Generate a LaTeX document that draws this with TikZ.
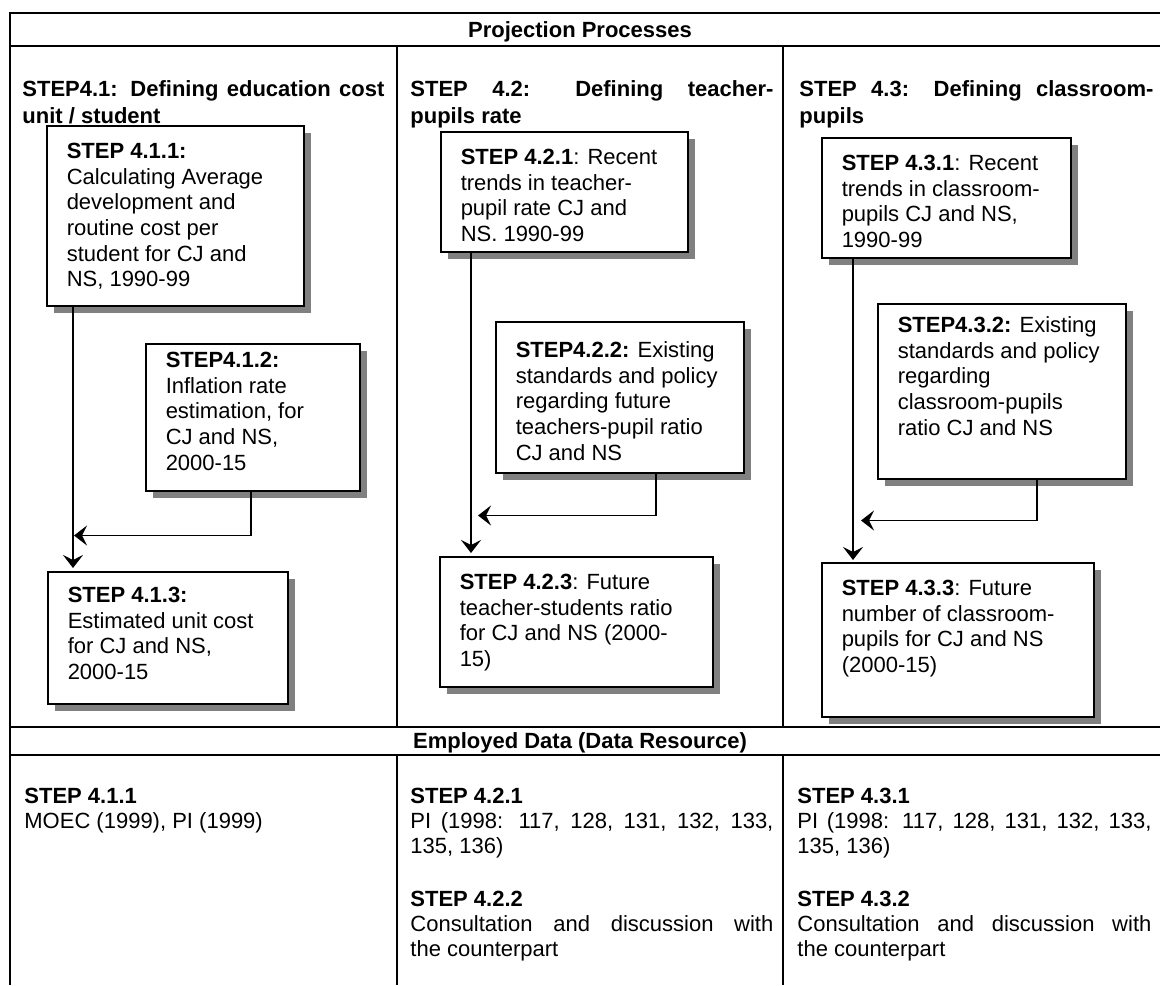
\documentclass[tikz,border=0pt]{standalone}
\usepackage{fontspec}
\setmainfont{Liberation Sans}
\usetikzlibrary{
    arrows.meta,
    positioning,
    calc,
    shadows
}
\definecolor{ShadowGray}{RGB}{128,128,128}
\tikzset{
  gridline/.style = {line width=1pt, black},
  stepbox/.style  = {draw, line width=0.75pt, fill=white, inner sep=0pt, anchor=north west,
                     font=\fontsize{11pt}{12.8pt}\selectfont,
                     drop shadow={shadow xshift=3.5pt, shadow yshift=-3.5pt,
                                  fill=ShadowGray, opacity=1}},
  coltext/.style  = {anchor=north west, inner sep=0pt, align=justify,
                     font=\fontsize{11pt}{13.5pt}\selectfont\bfseries},
  datatext/.style = {anchor=north west, inner sep=0pt, align=justify,
                     font=\fontsize{11pt}{12.5pt}\selectfont},
  rowhead/.style  = {anchor=base, inner sep=0pt, font=\fontsize{11pt}{13pt}\selectfont\bfseries},
  arr/.style      = {-{Stealth[length=6.5pt, width=10pt, inset=2.5pt]}, line width=0.65pt},
}
% box text: width, height, first baseline, text
\newcommand{\boxtxt}[4]{\parbox[t][#2][t]{#1}{\raggedright\leftskip=10pt\relax\rule{0pt}{#3}#4}}

\begin{document}
\begin{tikzpicture}[x=0.5pt, y=-0.5pt]
\useasboundingbox (0,0) rectangle (1160,985);

\draw[gridline] (1160,13) -- (10,13) -- (10,985);
\draw[gridline] (10,46) -- (1160,46);
\draw[gridline] (10,727) -- (1160,727);
\draw[gridline] (10,755) -- (1160,755);
\foreach \x in {397,783} {
  \draw[gridline] (\x,46) -- (\x,727);
  \draw[gridline] (\x,755) -- (\x,985);
}

\node[rowhead] (proj) at (580,37) {Projection Processes};
\node[rowhead] (data) at (580,748) {Employed Data (Data Resource)};

\node[coltext, text width=181pt] (t41) at (22,76)
  {\rule{0pt}{10pt}STEP4.1: Defining education cost\linebreak unit / student};
\node[coltext, text width=181.5pt] (t42) at (410,76)
  {\rule{0pt}{10pt}STEP 4.2: Defining teacher-\linebreak pupils rate};
\node[coltext, text width=177pt] (t43) at (799,76)
  {\rule{0pt}{10pt}STEP 4.3: Defining classroom-\linebreak pupils};

\node[stepbox] (b411) at (46,125) {\boxtxt{128.5pt}{90pt}{16.5pt}{\textbf{STEP 4.1.1:}\\
  Calculating Average\\ development and\\ routine cost per\\ student for CJ and\\ NS, 1990-99}};
\node[stepbox] (b412) at (145,343) {\boxtxt{107pt}{73.5pt}{12pt}{\textbf{STEP4.1.2:}\\
  Inflation rate\\ estimation, for\\ CJ and NS,\\ 2000-15}};
\node[stepbox] (b413) at (47,571) {\boxtxt{120pt}{66pt}{15.5pt}{\textbf{STEP 4.1.3:}\\
  Estimated unit cost\\ for CJ and NS,\\ 2000-15}};

\node[stepbox] (b421) at (440,131) {\boxtxt{123.5pt}{60pt}{16.5pt}{\textbf{STEP 4.2.1}: Recent\\
  trends in teacher-\\ pupil rate CJ and\\ NS. 1990-99}};
\node[stepbox] (b422) at (495,321) {\boxtxt{124pt}{75.5pt}{18pt}{\textbf{STEP4.2.2:} Existing\\
  standards and policy\\ regarding future\\ teachers-pupil ratio\\ CJ and NS}};
\node[stepbox] (b423) at (439,556) {\boxtxt{136.5pt}{65pt}{16.5pt}{\textbf{STEP 4.2.3}: Future\\
  teacher-students ratio\\ for CJ and NS (2000-\\ 15)}};

\node[stepbox] (b431) at (821,137) {\boxtxt{124.5pt}{60pt}{16.5pt}{\textbf{STEP 4.3.1}: Recent\\
  trends in classroom-\\ pupils CJ and NS,\\ 1990-99}};
\node[stepbox] (b432) at (877,303) {\boxtxt{124pt}{87.5pt}{14.5pt}{\textbf{STEP4.3.2:} Existing\\
  standards and policy\\ regarding\\ classroom-pupils\\ ratio CJ and NS}};
\node[stepbox] (b433) at (821,562) {\boxtxt{136pt}{77pt}{16.5pt}{\textbf{STEP 4.3.3}: Future\\
  number of classroom-\\ pupils for CJ and NS\\ (2000-15)}};

\coordinate (v1) at ([xshift=13.5pt]b411.south west);
\coordinate (v2) at ([xshift=15.5pt]b421.south west);
\coordinate (v3) at ([xshift=16pt]b431.south west);
\coordinate (c1) at ([xshift=53pt, yshift=-22pt]b412.south west);
\coordinate (c2) at ([xshift=80.5pt, yshift=-21pt]b422.south west);
\coordinate (c3) at ([xshift=80pt, yshift=-20.5pt]b432.south west);

\draw[arr, shorten >=1.5pt] (v1) -- (v1 |- b413.north);
\draw[arr, shorten >=1.5pt] (v2) -- (v2 |- b423.north);
\draw[arr, shorten >=1pt] (v3) -- (v3 |- b433.north);
\draw[arr, shorten >=0.5pt] ([xshift=53pt]b412.south west) -- (c1) -- (c1 -| v1);
\draw[arr, shorten >=3.5pt] ([xshift=80.5pt]b422.south west) -- (c2) -- (c2 -| v2);
\draw[arr, shorten >=4pt] ([xshift=80pt]b432.south west) -- (c3) -- (c3 -| v3);

\node[datatext, text width=181pt] (d41) at (24,783)
  {\rule{0pt}{10pt}\textbf{STEP 4.1.1}\\ MOEC (1999), PI (1999)};
\node[datatext, text width=181.5pt] (d42) at (410,783)
  {\rule{0pt}{10pt}\textbf{STEP 4.2.1}\\ PI (1998: 117, 128, 131, 132, 133,\linebreak 135, 136)\\[14pt]
   \textbf{STEP 4.2.2}\\ Consultation and discussion with\linebreak the counterpart};
\node[datatext, text width=177pt] (d43) at (797,783)
  {\rule{0pt}{10pt}\textbf{STEP 4.3.1}\\ PI (1998: 117, 128, 131, 132, 133,\linebreak 135, 136)\\[14pt]
   \textbf{STEP 4.3.2}\\ Consultation and discussion with\linebreak the counterpart};
\end{tikzpicture}
\end{document}
